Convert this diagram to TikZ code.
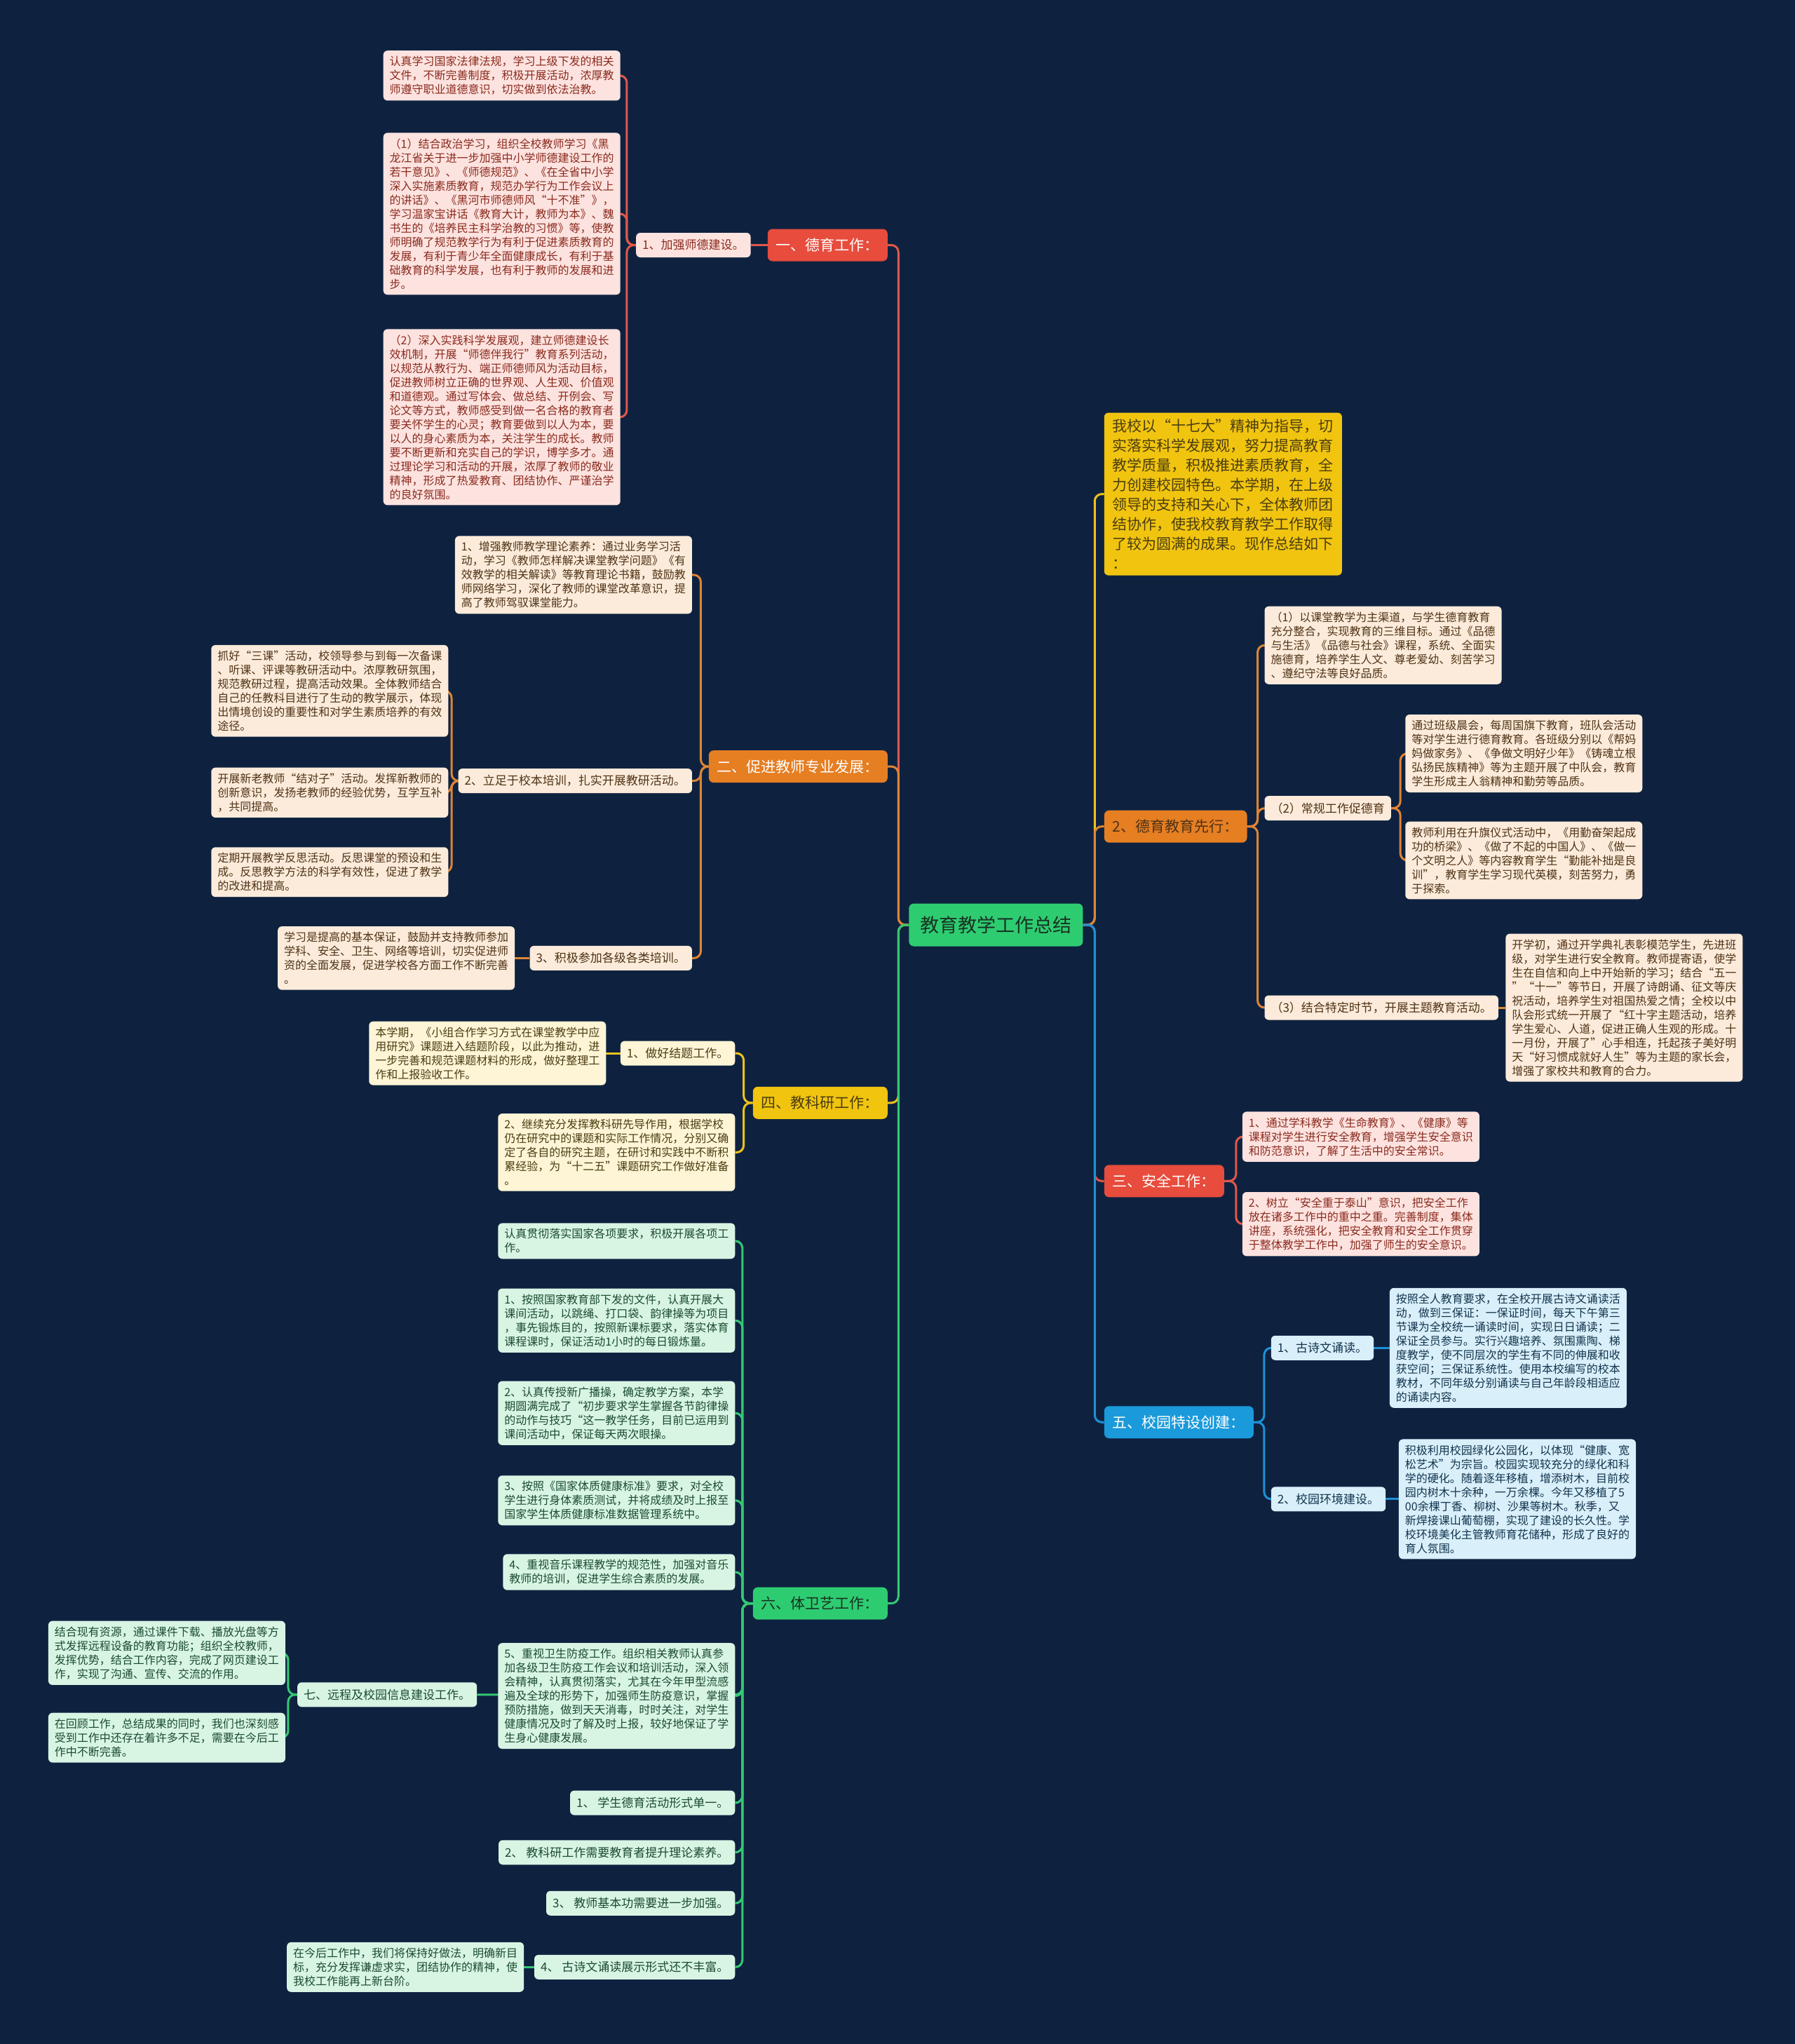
\documentclass[tikz,border=0pt]{standalone}
\usepackage{fontspec}
\setmainfont{Noto Sans CJK SC}
\definecolor{bgcol}{HTML}{0E2240}
\definecolor{redf}{HTML}{E74C3C}
\definecolor{redl}{HTML}{E0584A}
\definecolor{pinkf}{HTML}{FDE3DF}
\definecolor{pinkt}{HTML}{8A2A1E}
\definecolor{orf}{HTML}{E67E22}
\definecolor{orl}{HTML}{DD8535}
\definecolor{peachf}{HTML}{FCEBDA}
\definecolor{peacht}{HTML}{4E3216}
\definecolor{yelf}{HTML}{F1C40F}
\definecolor{yell}{HTML}{EFC21A}
\definecolor{ltyf}{HTML}{FEF5D6}
\definecolor{ltyt}{HTML}{4A3D12}
\definecolor{bluf}{HTML}{1A9ADB}
\definecolor{blul}{HTML}{1E90D6}
\definecolor{ltbf}{HTML}{D9EFFA}
\definecolor{ltbt}{HTML}{12344D}
\definecolor{grnf}{HTML}{2ECC71}
\definecolor{grnl}{HTML}{34C873}
\definecolor{ltgf}{HTML}{D8F5E4}
\definecolor{ltgt}{HTML}{1B4A30}
\definecolor{darkt}{HTML}{173322}
\pgfdeclarelayer{bgl}
\pgfdeclarelayer{lines}
\pgfsetlayers{bgl,lines,main}
\tikzset{
  body/.style={rounded corners=6pt, inner xsep=9pt, inner ysep=8pt, align=left, font=\fontsize{16}{20}\selectfont},
  lbl/.style={rounded corners=6pt, inner xsep=9pt, inner ysep=4pt, minimum height=35pt, font=\fontsize{17}{20}\selectfont},
  branch/.style={rounded corners=7pt, inner xsep=12pt, inner ysep=4pt, minimum height=46pt, font=\fontsize{21}{24}\selectfont},
  pinkbox/.style={body, fill=pinkf, text=pinkt},
  pinklbl/.style={lbl, fill=pinkf, text=pinkt},
  peachbox/.style={body, fill=peachf, text=peacht},
  peachlbl/.style={lbl, fill=peachf, text=peacht},
  ltybox/.style={body, fill=ltyf, text=ltyt},
  ltylbl/.style={lbl, fill=ltyf, text=ltyt},
  ltbbox/.style={body, fill=ltbf, text=ltbt},
  ltblbl/.style={lbl, fill=ltbf, text=ltbt},
  ltgbox/.style={body, fill=ltgf, text=ltgt},
  ltglbl/.style={lbl, fill=ltgf, text=ltgt},
  conn/.style={line width=3pt, rounded corners=10pt},
}
\begin{document}
\begin{tikzpicture}[x=1.859pt, y=-1.859pt]
\useasboundingbox (0,0) rectangle (1377,1568);
\begin{pgfonlayer}{bgl}
\fill[bgcol] (0,0) rectangle (1377,1568);
\end{pgfonlayer}

% root
\node[rounded corners=7pt, fill=grnf, text=darkt, inner xsep=16pt, minimum height=61pt, font=\fontsize{27}{30}\selectfont] (root) at (764,709.5) {教育教学工作总结};

% ---------------- right side ----------------
\node[body, fill=yelf, text=ltyt, inner xsep=12pt, inner ysep=9pt, font=\fontsize{21}{28}\selectfont, anchor=west] (intro) at (847,379) {我校以“十七大”精神为指导，切\\实落实科学发展观，努力提高教育\\教学质量，积极推进素质教育，全\\力创建校园特色。本学期，在上级\\领导的支持和关心下，全体教师团\\结协作，使我校教育教学工作取得\\了较为圆满的成果。现作总结如下\\：};

\node[branch, fill=orf, text=peacht, anchor=west] (dy) at (847,634) {2、德育教育先行：};
\node[peachbox, anchor=west] (dy1) at (970,495) {（1）以课堂教学为主渠道，与学生德育教育\\充分整合，实现教育的三维目标。通过《品德\\与生活》《品德与社会》课程，系统、全面实\\施德育，培养学生人文、尊老爱幼、刻苦学习\\、遵纪守法等良好品质。};
\node[peachlbl, anchor=west] (dy2) at (970,620) {（2）常规工作促德育};
\node[peachbox, anchor=west] (dy2a) at (1078,578) {通过班级晨会，每周国旗下教育，班队会活动\\等对学生进行德育教育。各班级分别以《帮妈\\妈做家务》、《争做文明好少年》《铸魂立根\\弘扬民族精神》等为主题开展了中队会，教育\\学生形成主人翁精神和勤劳等品质。};
\node[peachbox, anchor=west] (dy2b) at (1078,660) {教师利用在升旗仪式活动中，《用勤奋架起成\\功的桥梁》、《做了不起的中国人》、《做一\\个文明之人》等内容教育学生“勤能补拙是良\\训”，教育学生学习现代英模，刻苦努力，勇\\于探索。};
\node[peachlbl, anchor=west] (dy3) at (970,773) {（3）结合特定时节，开展主题教育活动。};
\node[peachbox, anchor=west] (dy3a) at (1155,773) {开学初，通过开学典礼表彰模范学生，先进班\\级，对学生进行安全教育。教师提寄语，使学\\生在自信和向上中开始新的学习；结合“五一\\”“十一”等节日，开展了诗朗诵、征文等庆\\祝活动，培养学生对祖国热爱之情；全校以中\\队会形式统一开展了“红十字主题活动，培养\\学生爱心、人道，促进正确人生观的形成。十\\一月份，开展了”心手相连，托起孩子美好明\\天“好习惯成就好人生”等为主题的家长会，\\增强了家校共和教育的合力。};

\node[branch, fill=redf, text=white, anchor=west] (an) at (847,906) {三、安全工作：};
\node[pinkbox, anchor=west] (an1) at (953,872) {1、通过学科教学《生命教育》、《健康》等\\课程对学生进行安全教育，增强学生安全意识\\和防范意识，了解了生活中的安全常识。};
\node[pinkbox, anchor=west] (an2) at (953,939) {2、树立“安全重于泰山”意识，把安全工作\\放在诸多工作中的重中之重。完善制度，集体\\讲座，系统强化，把安全教育和安全工作贯穿\\于整体教学工作中，加强了师生的安全意识。};

\node[branch, fill=bluf, text=white, anchor=west] (wu) at (847,1091) {五、校园特设创建：};
\node[ltblbl, anchor=west] (wu1) at (975,1034) {1、古诗文诵读。};
\node[ltbbox, anchor=west] (wu1a) at (1066,1034) {按照全人教育要求，在全校开展古诗文诵读活\\动，做到三保证：一保证时间，每天下午第三\\节课为全校统一诵读时间，实现日日诵读；二\\保证全员参与。实行兴趣培养、氛围熏陶、梯\\度教学，使不同层次的学生有不同的伸展和收\\获空间；三保证系统性。使用本校编写的校本\\教材，不同年级分别诵读与自己年龄段相适应\\的诵读内容。};
\node[ltblbl, anchor=west] (wu2) at (975,1150) {2、校园环境建设。};
\node[ltbbox, anchor=west] (wu2a) at (1073,1150) {积极利用校园绿化公园化，以体现“健康、宽\\松艺术”为宗旨。校园实现较充分的绿化和科\\学的硬化。随着逐年移植，增添树木，目前校\\园内树木十余种，一万余棵。今年又移植了5\\00余棵丁香、柳树、沙果等树木。秋季，又\\新焊接课山葡萄棚，实现了建设的长久性。学\\校环境美化主管教师育花储种，形成了良好的\\育人氛围。};

% ---------------- left side ----------------
\node[branch, fill=redf, text=white, anchor=east] (yi) at (681,188) {一、德育工作：};
\node[pinklbl, anchor=east] (yi1) at (576,188) {1、加强师德建设。};
\node[pinkbox, anchor=east] (yi1a) at (476,58) {认真学习国家法律法规，学习上级下发的相关\\文件，不断完善制度，积极开展活动，浓厚教\\师遵守职业道德意识，切实做到依法治教。};
\node[pinkbox, anchor=east] (yi1b) at (476,164) {（1）结合政治学习，组织全校教师学习《黑\\龙江省关于进一步加强中小学师德建设工作的\\若干意见》、《师德规范》、《在全省中小学\\深入实施素质教育，规范办学行为工作会议上\\的讲话》、《黑河市师德师风“十不准”》，\\学习温家宝讲话《教育大计，教师为本》、魏\\书生的《培养民主科学治教的习惯》等，使教\\师明确了规范教学行为有利于促进素质教育的\\发展，有利于青少年全面健康成长，有利于基\\础教育的科学发展，也有利于教师的发展和进\\步。};
\node[pinkbox, anchor=east] (yi1c) at (476,320) {（2）深入实践科学发展观，建立师德建设长\\效机制，开展“师德伴我行”教育系列活动，\\以规范从教行为、端正师德师风为活动目标，\\促进教师树立正确的世界观、人生观、价值观\\和道德观。通过写体会、做总结、开例会、写\\论文等方式，教师感受到做一名合格的教育者\\要关怀学生的心灵；教育要做到以人为本，要\\以人的身心素质为本，关注学生的成长。教师\\要不断更新和充实自己的学识，博学多才。通\\过理论学习和活动的开展，浓厚了教师的敬业\\精神，形成了热爱教育、团结协作、严谨治学\\的良好氛围。};

\node[branch, fill=orf, text=white, anchor=east] (er) at (681,588) {二、促进教师专业发展：};
\node[peachbox, anchor=east] (er1) at (531,441) {1、增强教师教学理论素养：通过业务学习活\\动，学习《教师怎样解决课堂教学问题》《有\\效教学的相关解读》等教育理论书籍，鼓励教\\师网络学习，深化了教师的课堂改革意识，提\\高了教师驾驭课堂能力。};
\node[peachlbl, anchor=east] (er2) at (531,599) {2、立足于校本培训，扎实开展教研活动。};
\node[peachbox, anchor=east] (er2a) at (344,530) {抓好“三课”活动，校领导参与到每一次备课\\、听课、评课等教研活动中。浓厚教研氛围，\\规范教研过程，提高活动效果。全体教师结合\\自己的任教科目进行了生动的教学展示，体现\\出情境创设的重要性和对学生素质培养的有效\\途径。};
\node[peachbox, anchor=east] (er2b) at (344,608) {开展新老教师“结对子”活动。发挥新教师的\\创新意识，发扬老教师的经验优势，互学互补\\，共同提高。};
\node[peachbox, anchor=east] (er2c) at (344,669) {定期开展教学反思活动。反思课堂的预设和生\\成。反思教学方法的科学有效性，促进了教学\\的改进和提高。};
\node[peachlbl, anchor=east] (er3) at (531,735) {3、积极参加各级各类培训。};
\node[peachbox, anchor=east] (er3a) at (395,735) {学习是提高的基本保证，鼓励并支持教师参加\\学科、安全、卫生、网络等培训，切实促进师\\资的全面发展，促进学校各方面工作不断完善\\。};

\node[branch, fill=yelf, text=ltyt, anchor=east] (si) at (681,846) {四、教科研工作：};
\node[ltylbl, anchor=east] (si1) at (564,808) {1、做好结题工作。};
\node[ltybox, anchor=east] (si1a) at (465,808) {本学期，《小组合作学习方式在课堂教学中应\\用研究》课题进入结题阶段，以此为推动，进\\一步完善和规范课题材料的形成，做好整理工\\作和上报验收工作。};
\node[ltybox, anchor=east] (si2) at (564,884) {2、继续充分发挥教科研先导作用，根据学校\\仍在研究中的课题和实际工作情况，分别又确\\定了各自的研究主题，在研讨和实践中不断积\\累经验，为“十二五”课题研究工作做好准备\\。};

\node[branch, fill=grnf, text=darkt, anchor=east] (liu) at (681,1230) {六、体卫艺工作：};
\node[ltgbox, anchor=east] (la) at (564,952) {认真贯彻落实国家各项要求，积极开展各项工\\作。};
\node[ltgbox, anchor=east] (lb) at (564,1013) {1、按照国家教育部下发的文件，认真开展大\\课间活动，以跳绳、打口袋、韵律操等为项目\\，事先锻炼目的，按照新课标要求，落实体育\\课程课时，保证活动1小时的每日锻炼量。};
\node[ltgbox, anchor=east] (lc) at (564,1084) {2、认真传授新广播操，确定教学方案，本学\\期圆满完成了“初步要求学生掌握各节韵律操\\的动作与技巧“这一教学任务，目前已运用到\\课间活动中，保证每天两次眼操。};
\node[ltgbox, anchor=east] (ld) at (564,1151) {3、按照《国家体质健康标准》要求，对全校\\学生进行身体素质测试，并将成绩及时上报至\\国家学生体质健康标准数据管理系统中。};
\node[ltgbox, anchor=east] (le) at (564,1206) {4、重视音乐课程教学的规范性，加强对音乐\\教师的培训，促进学生综合素质的发展。};
\node[ltgbox, anchor=east] (lf) at (564,1301) {5、重视卫生防疫工作。组织相关教师认真参\\加各级卫生防疫工作会议和培训活动，深入领\\会精神，认真贯彻落实，尤其在今年甲型流感\\遍及全球的形势下，加强师生防疫意识，掌握\\预防措施，做到天天消毒，时时关注，对学生\\健康情况及时了解及时上报，较好地保证了学\\生身心健康发展。};
\node[ltglbl, anchor=east] (qi) at (366,1300) {七、远程及校园信息建设工作。};
\node[ltgbox, anchor=east] (qia) at (219,1268) {结合现有资源，通过课件下载、播放光盘等方\\式发挥远程设备的教育功能；组织全校教师，\\发挥优势，结合工作内容，完成了网页建设工\\作，实现了沟通、宣传、交流的作用。};
\node[ltgbox, anchor=east] (qib) at (219,1333) {在回顾工作，总结成果的同时，我们也深刻感\\受到工作中还存在着许多不足，需要在今后工\\作中不断完善。};
\node[ltglbl, anchor=east] (lg) at (564,1383) {1、 学生德育活动形式单一。};
\node[ltglbl, anchor=east] (lh) at (564,1421) {2、 教科研工作需要教育者提升理论素养。};
\node[ltglbl, anchor=east] (li) at (564,1460) {3、 教师基本功需要进一步加强。};
\node[ltglbl, anchor=east] (lj) at (564,1509) {4、 古诗文诵读展示形式还不丰富。};
\node[ltgbox, anchor=east] (lja) at (402,1509) {在今后工作中，我们将保持好做法，明确新目\\标，充分发挥谦虚求实，团结协作的精神，使\\我校工作能再上新台阶。};

% ---------------- connectors ----------------
\begin{pgfonlayer}{lines}
% root right
\draw[conn, yell] (root.east) -- ++(9,0) |- (intro.west);
\draw[conn, orl] (root.east) -- ++(9,0) |- (dy.west);
\draw[conn, redl] (root.east) -- ++(9,0) |- (an.west);
\draw[conn, blul] (root.east) -- ++(9,0) |- (wu.west);
% root left
\draw[conn, redl] (root.west) -- ++(-8,0) |- (yi.east);
\draw[conn, orl] (root.west) -- ++(-8,0) |- (er.east);
\draw[conn, yell] (root.west) -- ++(-8,0) |- (si.east);
\draw[conn, grnl] (root.west) -- ++(-8,0) |- (liu.east);
% deyu
\foreach \c in {dy1,dy2,dy3} \draw[conn, orl] (dy.east) -- ++(8,0) |- (\c.west);
\foreach \c in {dy2a,dy2b} \draw[conn, orl] (dy2.east) -- ++(7,0) |- (\c.west);
\draw[conn, orl] (dy3.east) -- (dy3a.west);
% anquan
\foreach \c in {an1,an2} \draw[conn, redl] (an.east) -- ++(9,0) |- (\c.west);
% wu
\foreach \c in {wu1,wu2} \draw[conn, blul] (wu.east) -- ++(8,0) |- (\c.west);
\draw[conn, blul] (wu1.east) -- (wu1a.west);
\draw[conn, blul] (wu2.east) -- (wu2a.west);
% yi
\draw[conn, redl] (yi.west) -- (yi1.east);
\foreach \c in {yi1a,yi1b,yi1c} \draw[conn, redl] (yi1.west) -- ++(-7,0) |- (\c.east);
% er
\foreach \c in {er1,er2,er3} \draw[conn, orl] (er.west) -- ++(-6,0) |- (\c.east);
\foreach \c in {er2a,er2b,er2c} \draw[conn, orl] (er2.west) -- ++(-5,0) |- (\c.east);
\draw[conn, orl] (er3.west) -- (er3a.east);
% si
\foreach \c in {si1,si2} \draw[conn, yell] (si.west) -- ++(-7,0) |- (\c.east);
\draw[conn, yell] (si1.west) -- (si1a.east);
% liu
\foreach \c in {la,lb,lc,ld,le,lf,qi,lg,lh,li,lj} \draw[conn, grnl] (liu.west) -- ++(-8,0) |- (\c.east);
\foreach \c in {qia,qib} \draw[conn, grnl] (qi.west) -- ++(-7,0) |- (\c.east);
\draw[conn, grnl] (lj.west) -- (lja.east);
\end{pgfonlayer}
\end{tikzpicture}
\end{document}
